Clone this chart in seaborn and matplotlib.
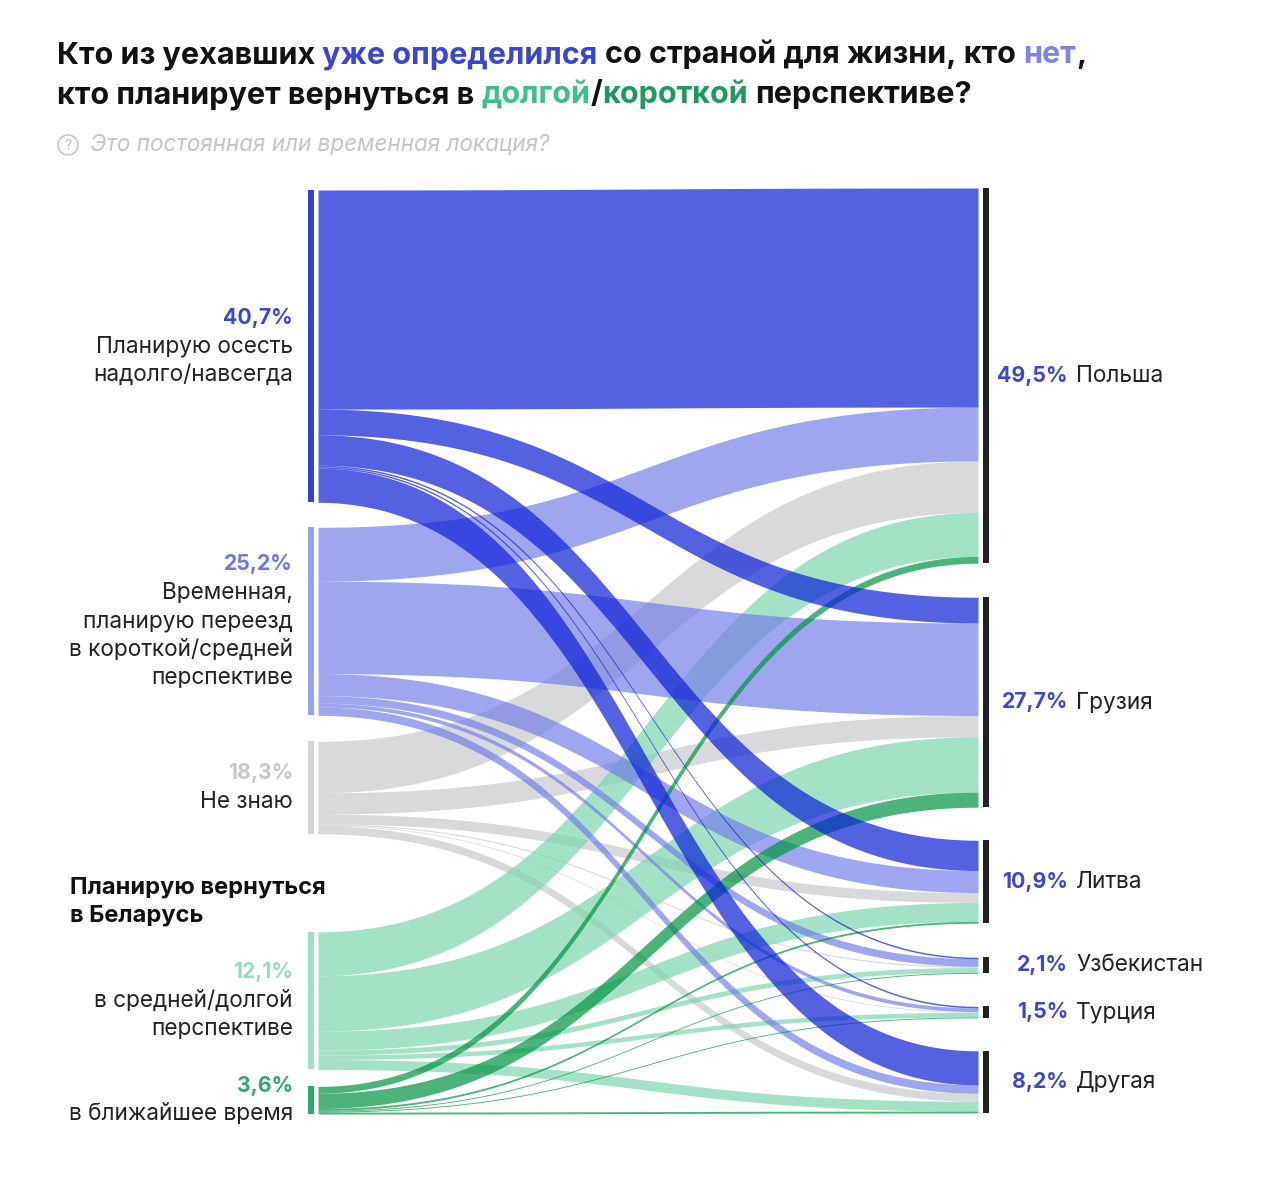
import numpy as np
import matplotlib
matplotlib.use("Agg")
import matplotlib.pyplot as plt
from matplotlib.patches import Circle, Rectangle
import seaborn as sns

# ---------------- data ----------------
source_labels = [
    "Планирую осесть\nнадолго/навсегда",
    "Временная,\nпланирую переезд\nв короткой/средней\nперспективе",
    "Не знаю",
    "в средней/долгой\nперспективе",
    "в ближайшее время",
]
source_pct = ["40,7%", "25,2%", "18,3%", "12,1%", "3,6%"]
target_labels = ["Польша", "Грузия", "Литва", "Узбекистан", "Турция", "Другая"]
target_pct = ["49,5%", "27,7%", "10,9%", "2,1%", "1,5%", "8,2%"]

# share of respondents (%) flowing from each answer to each country
flow_settle = [28.9, 3.4, 4.0, 0.2, 0.2, 4.5]
flow_temporary = [7.1, 12.2, 2.9, 1.0, 0.5, 1.1]
flow_unknown = [6.8, 2.8, 1.3, 0.15, 0.1, 1.05]
flow_return_long = [5.8, 7.3, 2.5, 0.65, 0.6, 1.3]
flow_return_soon = [0.9, 2.0, 0.25, 0.12, 0.12, 0.25]

# ---------------- style ----------------
sns.set_theme(style="white")
plt.rcParams["font.family"] = ["Inter", "DejaVu Sans"]

flow_colors = ["#0b20d6", "#7480e7", "#c7c9cd", "#7ed6ae", "#009541"]
flow_z = [2.5, 2.3, 2.0, 2.1, 2.4]      # darker bands drawn on top (multiply-like look)
bar_colors = ["#3342d6", "#9aa2ee", "#d4d5d8", "#a0e0c2", "#27a96a"]
pct_colors = ["#3a48c9", "#6c77e0", "#c6c7ca", "#93dcba", "#2daa6c"]
target_pct_color = "#3a48c9"
FLOW_ALPHA = 0.7

W, H = 1280, 1179
fig = plt.figure(figsize=(W / 100, H / 100), dpi=100)
ax = fig.add_axes([0, 0, 1, 1])
ax.set_xlim(0, W)
ax.set_ylim(H, 0)
ax.axis("off")
renderer = fig.canvas.get_renderer()

# ---------------- layout ----------------
M = np.array([flow_settle, flow_temporary, flow_unknown, flow_return_long, flow_return_soon])
total_px = 758.0
scale = total_px / M.sum()
src_h = M.sum(axis=1) * scale
tgt_h = M.sum(axis=0) * scale
left_gaps = [25, 26, 98, 17]
right_gaps = [34, 33, 34, 33, 33]
left_tops = [190.0]
for g, h in zip(left_gaps, src_h[:-1]):
    left_tops.append(left_tops[-1] + h + g)
right_tops = [188.0]
for g, h in zip(right_gaps, tgt_h[:-1]):
    right_tops.append(right_tops[-1] + h + g)

xL_bar, xR_bar, bar_w = 308, 983, 6
x0, x1 = 318, 978
xm = (x0 + x1) / 2

src_off = [[0.0] * M.shape[1] for _ in range(M.shape[0])]
for i in range(M.shape[0]):
    acc = left_tops[i]
    for j in range(M.shape[1]):
        src_off[i][j] = acc
        acc += M[i, j] * scale
tgt_off = [[0.0] * M.shape[1] for _ in range(M.shape[0])]
for j in range(M.shape[1]):
    acc = right_tops[j]
    for i in range(M.shape[0]):
        tgt_off[i][j] = acc
        acc += M[i, j] * scale

t = np.linspace(0, 1, 300)
bx = (1 - t) ** 3 * x0 + 3 * (1 - t) ** 2 * t * xm + 3 * (1 - t) * t ** 2 * xm + t ** 3 * x1


def by(ya, yb):
    return (1 - t) ** 3 * ya + 3 * (1 - t) ** 2 * t * ya + 3 * (1 - t) * t ** 2 * yb + t ** 3 * yb


for i in range(M.shape[0]):
    for j in range(M.shape[1]):
        h = M[i, j] * scale
        ya, yb = src_off[i][j], tgt_off[i][j]
        ax.fill_between(bx, by(ya, yb), by(ya + h, yb + h), color=flow_colors[i],
                        alpha=FLOW_ALPHA, linewidth=0, zorder=flow_z[i])

# node bars
for i in range(M.shape[0]):
    ax.add_patch(Rectangle((xL_bar, left_tops[i]), bar_w, src_h[i], color=bar_colors[i], lw=0, zorder=3))
for j in range(M.shape[1]):
    ax.add_patch(Rectangle((xR_bar, right_tops[j]), bar_w, tgt_h[j], color="#222222", lw=0, zorder=3))

# ---------------- labels ----------------
LBL = 16.3
PCT = 15.3
line_sp = 28.5
for i in range(M.shape[0]):
    lines = source_labels[i].split("\n")
    n = len(lines) + 1
    cy = left_tops[i] + src_h[i] / 2
    y_first = cy - (n - 1) * line_sp / 2
    ax.text(293, y_first, source_pct[i], ha="right", va="center", fontsize=PCT,
            fontweight="bold", color=pct_colors[i])
    for k, ln in enumerate(lines):
        ax.text(293, y_first + (k + 1) * line_sp, ln, ha="right", va="center",
                fontsize=LBL, color="#222222")

ax.text(70, 888, "Планирую вернуться", ha="left", va="center", fontsize=17, fontweight="bold", color="#111111")
ax.text(70, 916, "в Беларусь", ha="left", va="center", fontsize=17, fontweight="bold", color="#111111")

for j in range(M.shape[1]):
    cy = right_tops[j] + tgt_h[j] / 2
    ax.text(1068, cy, target_pct[j], ha="right", va="center", fontsize=PCT,
            fontweight="bold", color=target_pct_color)
    ax.text(1076, cy, target_labels[j], ha="left", va="center", fontsize=LBL, color="#222222")


# ---------------- title with coloured runs ----------------
def text_w(s, **kw):
    tt = ax.text(0, 0, s, **kw)
    w = tt.get_window_extent(renderer=renderer).width
    tt.remove()
    return w


def draw_runs(x, y, runs, **kw):
    sp = text_w("н н", **kw) - text_w("нн", **kw)
    for s, col in runs:
        lead = len(s) - len(s.lstrip(" "))
        trail = len(s) - len(s.rstrip(" "))
        core = s.strip(" ")
        x += lead * sp
        if core:
            tt = ax.text(x, y, core, ha="left", va="baseline", color=col, **kw)
            x = tt.get_window_extent(renderer=renderer).x1
        x += trail * sp
    return x


title_kw = dict(fontsize=20, fontweight="bold")
line1 = [("Кто из уехавших ", "#111111"), ("уже определился", "#3a47c8"),
         (" со страной для жизни, кто ", "#111111"), ("нет", "#7a85e8"), (",", "#111111")]
line2 = [("кто планирует вернуться в ", "#111111"), ("долгой", "#3cc08a"), ("/", "#111111"),
         ("короткой", "#1e9a5e"), (" перспективе?", "#111111")]
full1 = "".join(s for s, _ in line1)
w_now = text_w(full1, **title_kw)
title_kw["fontsize"] = 20 * 1031 / w_now
draw_runs(57, 63, line1, **title_kw)
draw_runs(57, 103, line2, **title_kw)

# subtitle
ax.add_patch(Circle((68, 145), 10, fill=False, edgecolor="#c8c8c8", lw=1.2))
ax.text(68, 145.5, "?", ha="center", va="center", fontsize=10, color="#c0c0c0")
sub_kw = dict(fontsize=14, fontstyle="italic", color="#c4c4c4")
sw = text_w("Это постоянная или временная локация?", **sub_kw)
sub_kw["fontsize"] = 14 * 460 / sw
ax.text(90, 145, "Это постоянная или временная локация?", ha="left", va="center", **sub_kw)

fig.savefig("out.png", dpi=100, facecolor="white")
